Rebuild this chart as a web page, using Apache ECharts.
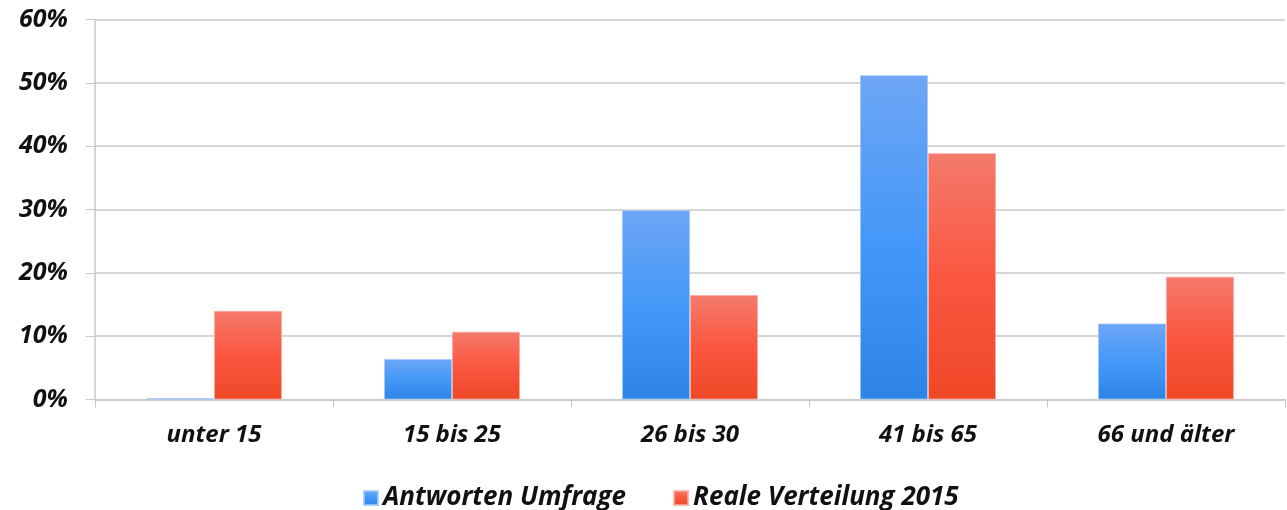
<!DOCTYPE html>
<html>
<head>
<meta charset="utf-8">
<script src="https://cdn.jsdelivr.net/npm/echarts@6/dist/echarts.min.js"></script>
<style>
html,body{margin:0;padding:0;background:#fff;}
#chart{width:1287px;height:510px;}
</style>
</head>
<body>
<div id="chart"></div>
<script>
const categories = ['unter 15', '15 bis 25', '26 bis 30', '41 bis 65', '66 und älter'];
const seriesNames = ['Antworten Umfrage', 'Reale Verteilung 2015'];
const umfrage = [0.2, 6.4, 29.9, 51.2, 12.0];
const verteilung = [14.0, 10.7, 16.5, 38.9, 19.4];
const yTicks = [0, 10, 20, 30, 40, 50, 60];

const FONT = '"Open Sans", sans-serif';
function grad(top, mid, bottom) {
  return new echarts.graphic.LinearGradient(0, 0, 0, 1, [
    {offset: 0, color: top}, {offset: 0.5, color: mid}, {offset: 1, color: bottom}
  ]);
}
const chart = echarts.init(document.getElementById('chart'), null, {renderer: 'canvas'});
chart.setOption({
  animation: false,
  backgroundColor: '#ffffff',
  grid: {left: 95, right: 2, top: 19.5, bottom: 110.5, containLabel: false},
  legend: {
    top: 480, left: 358, itemWidth: 14, itemHeight: 14, itemGap: 47,
    icon: 'rect',
    textStyle: {fontFamily: FONT, fontWeight: 'bold', fontStyle: 'italic', fontSize: 26, color: '#111'},
    data: seriesNames
  },
  xAxis: {
    type: 'category', data: categories,
    axisLine: {lineStyle: {color: '#c8c8c8', width: 1.5}},
    axisTick: {show: true, length: 8, lineStyle: {color: '#c8c8c8'}},
    axisLabel: {margin: 24, fontFamily: FONT, fontWeight: 'bold', fontStyle: 'italic', fontSize: 24, color: '#111'}
  },
  yAxis: {
    type: 'value', min: 0, max: 60, interval: 10,
    axisLine: {show: true, lineStyle: {color: '#c8c8c8', width: 1.5}},
    axisTick: {show: true, length: 9, lineStyle: {color: '#c8c8c8'}},
    splitLine: {lineStyle: {color: '#c8c8c8', width: 1.5}},
    axisLabel: {margin: 27, formatter: v => yTicks.includes(v) ? v + '%' : '', fontFamily: FONT, fontWeight: 'bold', fontStyle: 'italic', fontSize: 25, color: '#111'}
  },
  series: [
    {
      name: seriesNames[0], type: 'bar', data: umfrage,
      barWidth: 68, barGap: '0%',
      itemStyle: {color: grad('#6ea6f5', '#4598f8', '#2d84e4'), borderColor: 'rgba(160,200,250,0.8)', borderWidth: 1}
    },
    {
      name: seriesNames[1], type: 'bar', data: verteilung,
      barWidth: 68, barGap: '0%',
      itemStyle: {color: grad('#f47a6c', '#fb5740', '#ee4827'), borderColor: 'rgba(250,170,160,0.8)', borderWidth: 1}
    }
  ]
});
</script>
</body>
</html>
